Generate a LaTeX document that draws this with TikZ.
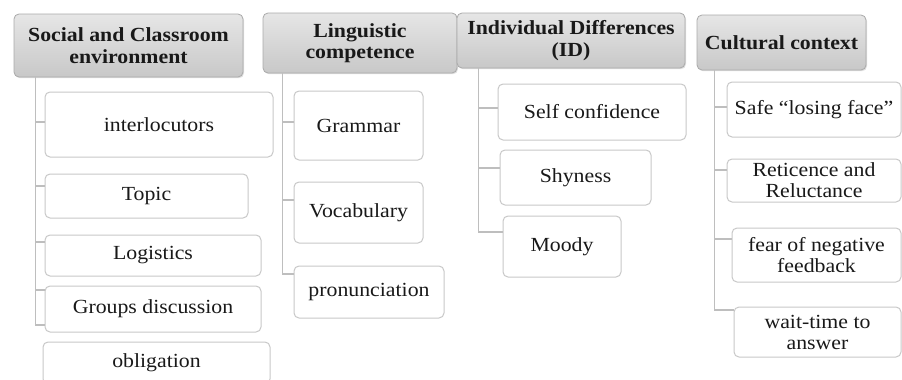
\documentclass[tikz,border=0pt]{standalone}
\usepackage{fontspec}
\setmainfont{Liberation Serif}[FakeStretch=1.09]
\usetikzlibrary{shadows}
\definecolor{hdrtop}{RGB}{230,230,230}
\definecolor{hdrbot}{RGB}{200,200,200}
\definecolor{hdrline}{RGB}{170,170,170}
\definecolor{boxline}{RGB}{200,200,200}
\definecolor{connline}{RGB}{190,190,190}
\definecolor{txt}{RGB}{25,25,25}
\tikzset{
  hdr/.style={rectangle, rounded corners=5pt, draw=hdrline, line width=0.8pt,
    top color=hdrtop, bottom color=hdrbot, align=center, inner sep=0pt,
    text=txt, font=\fontsize{20}{21.5}\selectfont\bfseries,
    drop shadow={shadow xshift=1pt, shadow yshift=-1.2pt, opacity=0.25}},
  item/.style={rectangle, rounded corners=5pt, draw=boxline, line width=1pt,
    fill=white, align=center, inner sep=0pt, text=txt,
    font=\fontsize{20}{21}\selectfont},
  conn/.style={draw=connline, line width=1.6pt}
}
\begin{document}
\begin{tikzpicture}[x=1pt,y=-1pt]
\useasboundingbox (0,0) rectangle (902,380);
\fill[white] (0,0) rectangle (902,380);

% Column 1
\node[hdr, minimum width=229pt, minimum height=63pt] (h1) at (128.5,45.5) {Social and Classroom\\environment};
\node[item, minimum width=228pt, minimum height=65pt] (a1) at (159,124.5) {interlocutors};
\node[item, minimum width=203pt, minimum height=44pt] (a2) at (146.5,196) {Topic};
\node[item, minimum width=216pt, minimum height=41pt] (a3) at (153,255.5) {Logistics};
\node[item, minimum width=216pt, minimum height=46pt] (a4) at (153,309) {Groups discussion};
\node[item, minimum width=227pt, minimum height=42pt] (a5) at (156.5,363) {obligation};
\coordinate (s1) at ([xshift=22pt]h1.south west);
\draw[conn] (s1) |- ([yshift=2.5pt]a1.west);
\draw[conn] (s1) |- ([yshift=10pt]a2.west);
\draw[conn] (s1) |- ([yshift=13.5pt]a3.west);
\draw[conn] (s1) |- ([yshift=19pt]a4.west);
\draw[conn] (s1) |- ([yshift=-16pt]a4.west);

% Column 2
\node[hdr, minimum width=194pt, minimum height=60pt] (h2) at (360,43) {Linguistic\\competence};
\node[item, minimum width=129pt, minimum height=69pt] (b1) at (358.5,125.5) {Grammar};
\node[item, minimum width=129pt, minimum height=61pt] (b2) at (358.5,212.5) {Vocabulary};
\node[item, minimum width=150pt, minimum height=52pt] (b3) at (369,292) {pronunciation};
\coordinate (s2) at ([xshift=20pt]h2.south west);
\draw[conn] (s2) |- ([yshift=3.5pt]b1.west);
\draw[conn] (s2) |- ([yshift=12.5pt]b2.west);
\draw[conn] (s2) |- ([yshift=18pt]b3.west);

% Column 3
\node[hdr, minimum width=228pt, minimum height=55pt] (h3) at (571,40.5) {Individual Differences\\(ID)};
\node[item, minimum width=188pt, minimum height=56pt] (c1) at (592,112) {Self confidence};
\node[item, minimum width=151pt, minimum height=55pt] (c2) at (575.5,177.5) {Shyness};
\node[item, minimum width=118pt, minimum height=61pt] (c3) at (562,246.5) {Moody};
\coordinate (s3) at ([xshift=22pt]h3.south west);
\draw[conn] (s3) |- ([yshift=4pt]c1.west);
\draw[conn] (s3) |- ([yshift=9.5pt]c2.west);
\draw[conn] (s3) |- ([yshift=14.5pt]c3.west);

% Column 4
\node[hdr, minimum width=169pt, minimum height=55pt] (h4) at (781.5,42.5) {Cultural context};
\node[item, minimum width=174pt, minimum height=55pt] (d1) at (814,109.5) {Safe “losing face”};
\node[item, minimum width=174pt, minimum height=43pt] (d2) at (814,180.5) {Reticence and\\Reluctance};
\node[item, minimum width=169pt, minimum height=54pt] (d3) at (816.5,255) {fear of negative\\feedback};
\node[item, minimum width=167pt, minimum height=50pt] (d4) at (817.5,332) {wait-time to\\answer};
\coordinate (s4) at ([xshift=18pt]h4.south west);
\draw[conn] (s4) |- ([yshift=2.5pt]d1.west);
\draw[conn] (s4) |- ([yshift=10.5pt]d2.west);
\draw[conn] (s4) |- ([yshift=16pt]d3.west);
\draw[conn] (s4) |- ([yshift=22pt]d4.west);
\end{tikzpicture}
\end{document}
